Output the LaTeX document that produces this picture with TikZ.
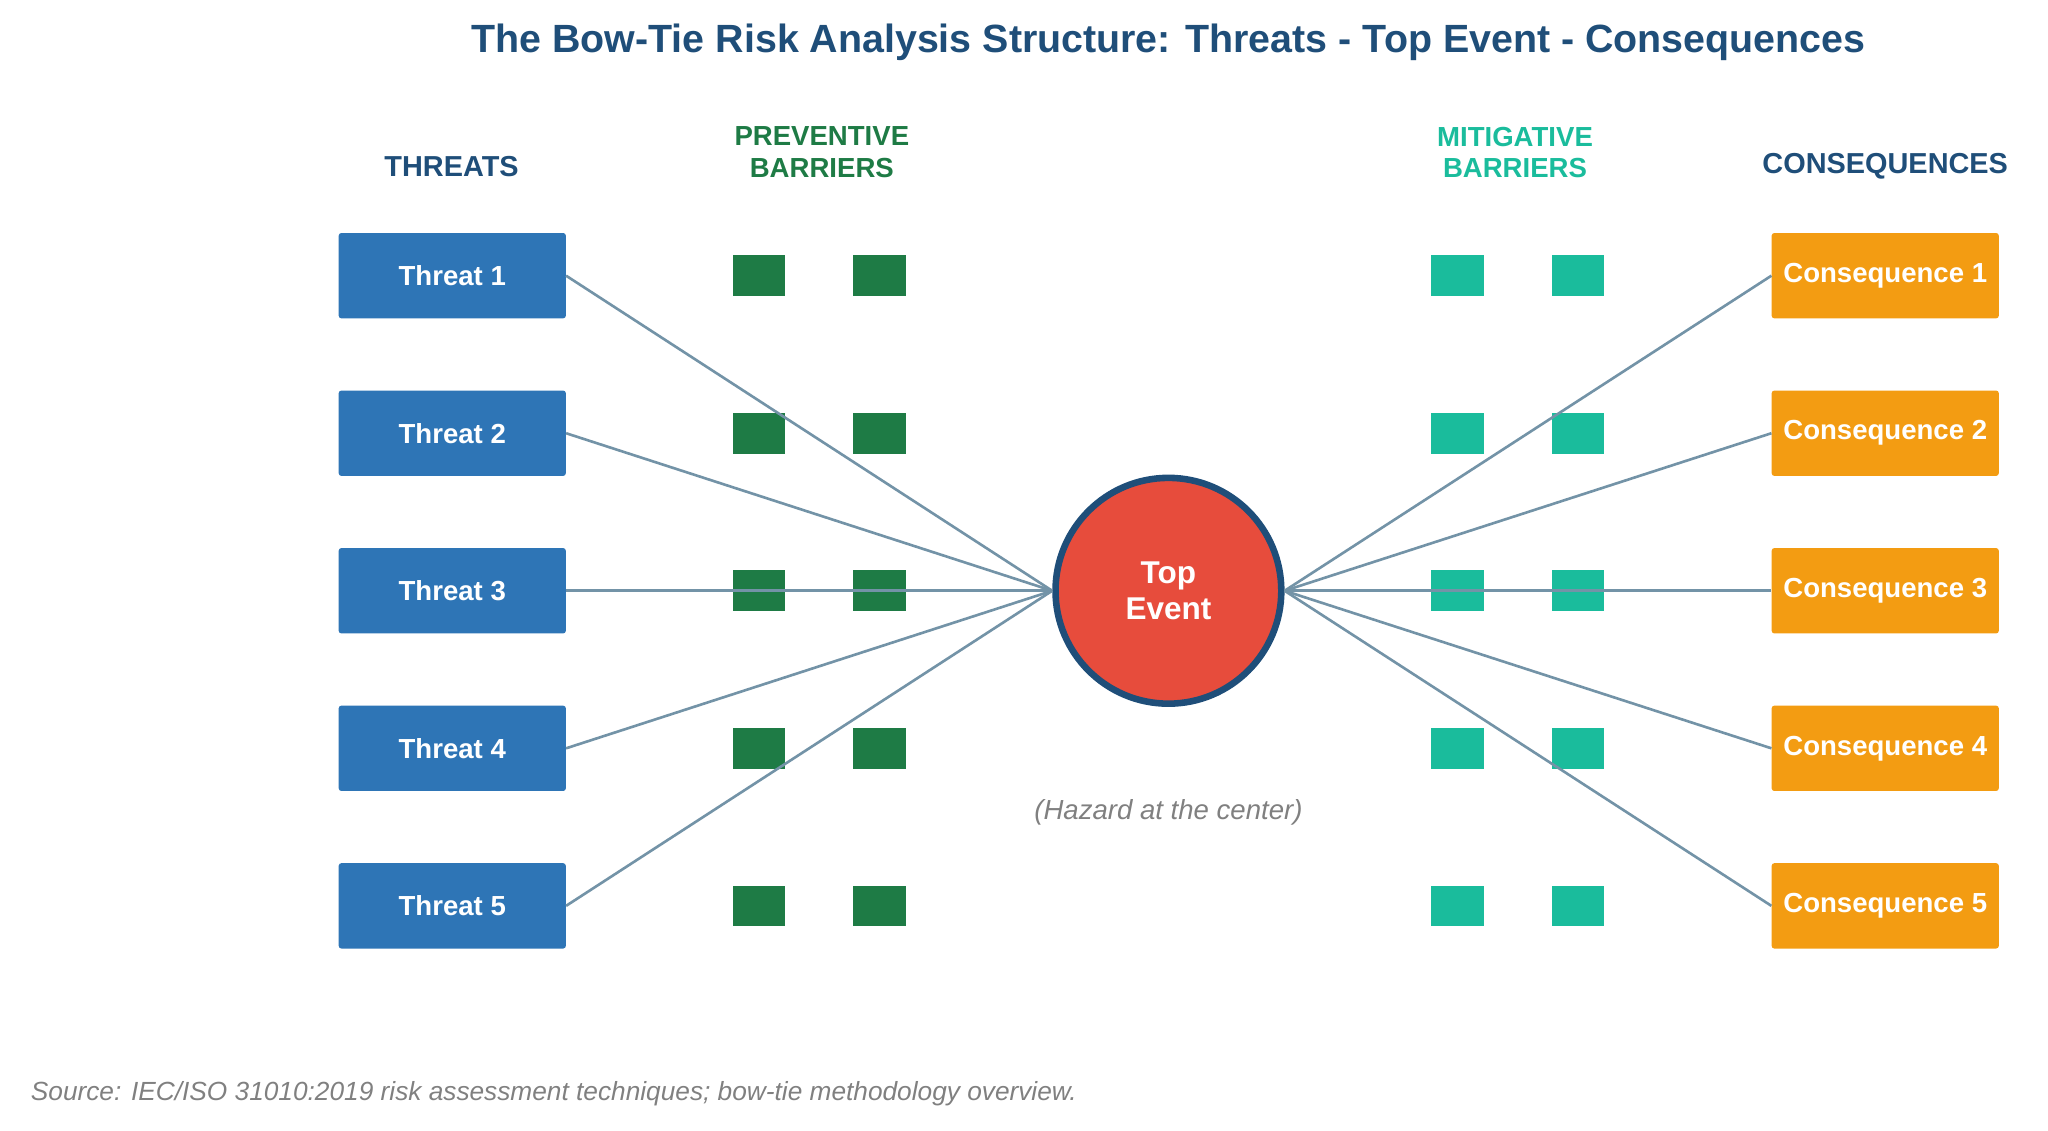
\documentclass[tikz,border=0pt]{standalone}
\usepackage{fontspec}
\setmainfont{Liberation Sans}
\begin{document}
\begin{tikzpicture}[x=1pt,y=-1pt,
 box/.style={minimum width=173pt,minimum height=65pt,rounded corners=2pt,inner sep=0pt,text=white,font=\fontsize{21}{24}\selectfont\bfseries},
 thr/.style={box,fill=tblue},
 con/.style={box,fill=corange},
 pb/.style={fill=pgreen,minimum width=40pt,minimum height=31pt,inner sep=0pt},
 mb/.style={fill=mteal,minimum width=40pt,minimum height=31pt,inner sep=0pt},
 hdr/.style={font=\fontsize{22}{24}\selectfont\bfseries,align=center},
 link/.style={draw=lblue,line width=2pt}]
\definecolor{tblue}{HTML}{2E75B6}
\definecolor{corange}{HTML}{F39C12}
\definecolor{pgreen}{HTML}{1E7B45}
\definecolor{mteal}{HTML}{1ABC9C}
\definecolor{dblue}{HTML}{1F4E79}
\definecolor{lblue}{HTML}{7393A7}
\definecolor{tred}{HTML}{E74C3C}
\useasboundingbox (0,0) rectangle (1560,861);
\node[text=dblue,font=\fontsize{30}{34}\selectfont\bfseries] (title) at (890,32) {The Bow-Tie Risk Analysis Structure: Threats - Top Event - Consequences};
\node[hdr,text=dblue] (h1) at (344,127) {THREATS};
\node[hdr,text=pgreen,font=\fontsize{21}{24}\selectfont\bfseries] (h2) at (626,116) {PREVENTIVE\\BARRIERS};
\node[hdr,text=mteal,font=\fontsize{21}{24}\selectfont\bfseries] (h3) at (1154,116) {MITIGATIVE\\BARRIERS};
\node[hdr,text=dblue] (h4) at (1436,127) {CONSEQUENCES};
\foreach \i/\y in {1/210,2/330,3/450,4/570,5/690}{
 \node[pb] (pa\i) at (578,\y) {};
 \node[pb] (pb\i) at (670,\y) {};
 \node[mb] (ma\i) at (1110,\y) {};
 \node[mb] (mb\i) at (1202,\y) {};
 \node[thr] (t\i) at (344.5,\y) {Threat \i};
 \node[con] (c\i) at (1436,\y) {Consequence \i};
}
\node[circle,fill=tred,draw=dblue,line width=5pt,minimum size=172pt,text=white,align=center,font=\fontsize{24}{28}\selectfont\bfseries] (top) at (890,450) {Top\\Event};
\foreach \i in {1,...,5}{
 \draw[link] (t\i.east) -- (top.west);
 \draw[link] (top.east) -- (c\i.west);
}
\node[text=gray,font=\fontsize{21}{24}\selectfont\itshape] (hz) at (890,619) {(Hazard at the center)};
\node[text=gray,anchor=west,font=\fontsize{20}{24}\selectfont\itshape] (src) at (20,833) {Source: IEC/ISO 31010:2019 risk assessment techniques; bow-tie methodology overview.};
\end{tikzpicture}
\end{document}
